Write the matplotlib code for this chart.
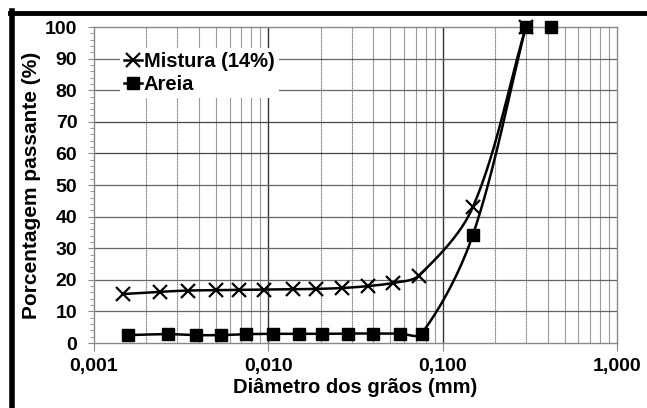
import numpy as np
import matplotlib
matplotlib.use("Agg")
import matplotlib.pyplot as plt
from matplotlib.lines import Line2D
from matplotlib.ticker import FixedLocator, MultipleLocator, NullFormatter

plt.rcParams['font.family'] = ['Liberation Sans', 'DejaVu Sans']
plt.rcParams['font.weight'] = 'bold'

# Data
mistura_d = [0.00147, 0.00239, 0.00346, 0.0050, 0.0068, 0.0095, 0.0138, 0.0187,
             0.0264, 0.0372, 0.0517, 0.0728, 0.149, 0.30]
mistura_p = [15.5, 16.2, 16.6, 16.7, 16.8, 16.9, 17.0, 17.1,
             17.4, 18.0, 19.0, 21.3, 43.0, 100.0]
areia_d = [0.00157, 0.00266, 0.00384, 0.00534, 0.00743, 0.0106, 0.0150, 0.0203,
           0.0285, 0.0397, 0.0567, 0.0758, 0.149, 0.30, 0.42]
areia_p = [2.5, 2.8, 2.5, 2.5, 2.8, 2.9, 2.9, 2.9,
           3.0, 3.0, 3.0, 3.0, 34.2, 100.0, 100.0]

x_ticks = [0.001, 0.01, 0.1, 1.0]
x_ticklabels = ["0,001", "0,010", "0,100", "1,000"]
y_ticks = list(range(0, 101, 10))

W_PX, H_PX = 647, 408
fig = plt.figure(figsize=(W_PX / 100, H_PX / 100), dpi=100)
ax = fig.add_axes([94 / W_PX, (H_PX - 343) / H_PX, (617 - 94) / W_PX, (343 - 27) / H_PX])

ax.set_xscale('log')
ax.set_xlim(0.001, 1.0)
ax.set_ylim(0, 100)

aw, ah = 523.0, 316.0


def smooth(xs, ys, n=30, k=0.32):
    u = (np.log10(np.asarray(xs)) + 3) / 3 * aw
    v = np.asarray(ys) / 100 * ah
    P = np.column_stack([u, v])
    m = len(P)
    D = []
    for i in range(m):
        a = P[i - 1] if i > 0 else P[i]
        b = P[i + 1] if i + 1 < m else P[i]
        d = b - a
        D.append(d / (np.hypot(*d) + 1e-12))
    out = [P[0]]
    for i in range(m - 1):
        p1, p2 = P[i], P[i + 1]
        L = np.hypot(*(p2 - p1))
        c1 = p1 + D[i] * L * k
        c2 = p2 - D[i + 1] * L * k
        t = np.linspace(0, 1, n)[1:, None]
        seg = ((1 - t) ** 3) * p1 + 3 * ((1 - t) ** 2) * t * c1 + 3 * (1 - t) * t ** 2 * c2 + t ** 3 * p2
        out.extend(seg)
    out = np.array(out)
    return 10 ** (out[:, 0] / aw * 3 - 3), out[:, 1] / ah * 100


# grid
for dec in [0.001, 0.01, 0.1]:
    for k in range(2, 10):
        ax.axvline(dec * k, color='#9a9a9a' if k > 3 else '#6a6a6a', lw=0.8, zorder=1,
                   ls=(0, (1, 0.6)) if k <= 3 else '-')
for dec in [0.01, 0.1]:
    ax.axvline(dec, color='#333333', lw=1.0, zorder=1)
for yv in range(10, 100, 10):
    ax.axhline(yv, color='#444444' if yv in (60, 70) else '#666666', lw=0.9, zorder=1)

mx, my = smooth(mistura_d, mistura_p)
ax.plot(mx, my, color='black', lw=1.8, zorder=3, clip_on=False)
ax.plot(mistura_d, mistura_p, ls='none', marker='x', ms=10, mew=1.6, color='black', zorder=4, clip_on=False)
sx, sy = smooth(areia_d[:-1], areia_p[:-1])
ax.plot(sx, sy, color='black', lw=1.8, zorder=3, clip_on=False)
ax.plot(areia_d, areia_p, ls='none', marker='s', ms=8, color='black', zorder=4, clip_on=False)

for s in ax.spines.values():
    s.set_color('#888888')
    s.set_linewidth(1.0)

ax.xaxis.set_major_locator(FixedLocator(x_ticks))
ax.set_xticklabels(x_ticklabels)
ax.xaxis.set_minor_formatter(NullFormatter())
ax.tick_params(axis='x', which='minor', length=0)
ax.tick_params(axis='x', which='major', length=6, color='#888888', labelsize=14, pad=5)
ax.set_yticks(y_ticks)
ax.yaxis.set_minor_locator(MultipleLocator(2))
ax.tick_params(axis='y', which='major', length=4, color='#888888', labelsize=14, pad=8)
ax.tick_params(axis='y', which='minor', length=3, color='#888888')
for lab in ax.get_xticklabels() + ax.get_yticklabels():
    lab.set_fontweight('bold')

ax.set_xlabel('Diâmetro dos grãos (mm)', fontsize=14.5, fontweight='bold', labelpad=2)
ax.set_ylabel('Porcentagem passante (%)', fontsize=15, fontweight='bold', labelpad=3)

handles = [Line2D([], [], color='black', lw=1.8, marker='x', ms=10, mew=1.6),
           Line2D([], [], color='black', lw=1.8, marker='s', ms=8)]
leg = ax.legend(handles, ['Mistura (14%)', 'Areia'], loc='upper left',
                bbox_to_anchor=(0.03, 0.965), frameon=True, fancybox=False,
                edgecolor='none', framealpha=1, handlelength=0.9, handletextpad=0.1,
                borderpad=0.2, labelspacing=0.2, prop={'size': 14.5, 'weight': 'bold'})
leg.set_zorder(5)

# black frame on top and left
fig.add_artist(Line2D([10 / W_PX, 645 / W_PX], [1 - 13 / H_PX, 1 - 13 / H_PX],
                      color='black', lw=3.5, transform=fig.transFigure))
fig.add_artist(Line2D([11.5 / W_PX, 11.5 / W_PX], [0, 1 - 11 / H_PX],
                      color='black', lw=4, transform=fig.transFigure))

fig.savefig('out.png', dpi=100)
